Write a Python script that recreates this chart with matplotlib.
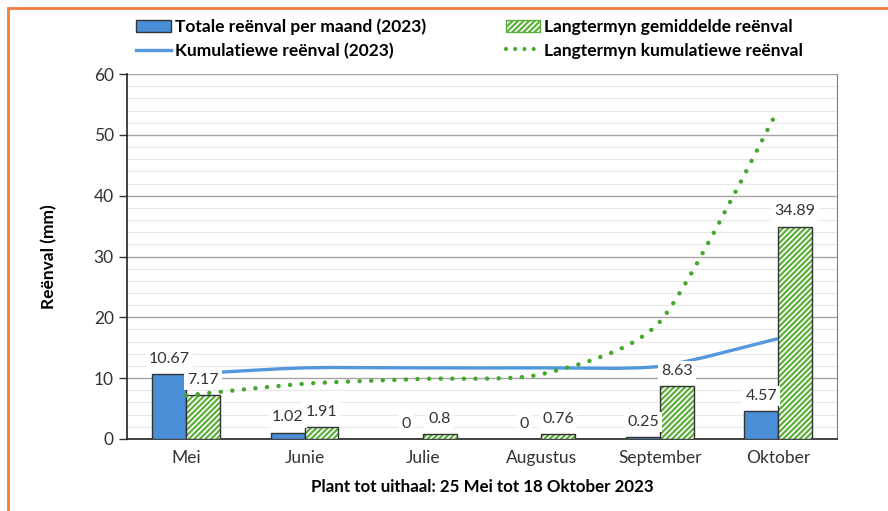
import numpy as np
import matplotlib.pyplot as plt
from matplotlib.path import Path
from matplotlib.patches import PathPatch, Rectangle, Patch
from matplotlib.lines import Line2D

plt.rcParams['font.family'] = ['Lato', 'DejaVu Sans']
plt.rcParams['hatch.linewidth'] = 1.6

maande = ['Mei', 'Junie', 'Julie', 'Augustus', 'September', 'Oktober']
reen_2023 = [10.67, 1.02, 0, 0, 0.25, 4.57]
reen_langtermyn = [7.17, 1.91, 0.8, 0.76, 8.63, 34.89]
kum_2023 = np.cumsum(reen_2023)
kum_langtermyn = np.cumsum(reen_langtermyn)

blou = '#4A8ED8'
blou_lyn = '#5497DC'
groen = '#5DAE3A'
groen_stip = '#45A72E'


def smooth_path(xs, ys, t=0.35):
    # Excel-agtige gladde lyn: Catmull-Rom as kubiese Bezier
    xs = np.asarray(xs, float)
    ys = np.asarray(ys, float)
    n = len(xs)
    verts = [(xs[0], ys[0])]
    codes = [Path.MOVETO]
    for i in range(n - 1):
        p0 = i - 1 if i > 0 else i
        p3 = i + 2 if i + 2 < n else i + 1
        c1 = (xs[i] + (xs[i + 1] - xs[p0]) * t / 3, ys[i] + (ys[i + 1] - ys[p0]) * t / 3)
        c2 = (xs[i + 1] - (xs[p3] - xs[i]) * t / 3, ys[i + 1] - (ys[p3] - ys[i]) * t / 3)
        verts += [c1, c2, (xs[i + 1], ys[i + 1])]
        codes += [Path.CURVE4] * 3
    return Path(verts, codes)


fig = plt.figure(figsize=(8.88, 5.11), dpi=100)
ax = fig.add_axes([0.143, 0.141, 0.800, 0.714])

x = np.arange(len(maande))
w = 0.285

ax.bar(x - w / 2, reen_2023, w, color=blou, edgecolor='#333333', linewidth=1, zorder=3)
ax.bar(x + w / 2, reen_langtermyn, w, color='white', edgecolor=groen, hatch='//////',
       linewidth=0, zorder=3)
ax.bar(x + w / 2, reen_langtermyn, w, fill=False, edgecolor='#333333', linewidth=1, zorder=3)

ax.add_patch(PathPatch(smooth_path(x, kum_2023), fill=False, edgecolor=blou_lyn,
                       linewidth=2.4, zorder=4))
ax.add_patch(PathPatch(smooth_path(x, kum_langtermyn), fill=False, edgecolor=groen_stip,
                       linewidth=3.2, linestyle=(0, (0.01, 2.6)), capstyle='round', zorder=4))

box = dict(boxstyle='square,pad=0.2', facecolor='white', edgecolor='none')
for xi, v in zip(x, reen_2023):
    ax.annotate(f'{v:g}', (xi - w / 2, v), xytext=(0, 6), textcoords='offset points',
                ha='center', va='bottom', fontsize=11.5, color='#333333', bbox=box, zorder=5)
for xi, v in zip(x, reen_langtermyn):
    ax.annotate(f'{v:g}', (xi + w / 2, v), xytext=(0, 6), textcoords='offset points',
                ha='center', va='bottom', fontsize=11.5, color='#333333', bbox=box, zorder=5)

ax.set_xlim(-0.5, 5.5)
ax.set_ylim(0, 60)
ax.set_xticks(x)
ax.set_xticklabels(maande, fontsize=12.5, color='#333333')
ax.set_yticks(range(0, 61, 10))
ax.set_yticks(range(0, 61, 2), minor=True)
ax.tick_params(axis='y', labelsize=12.5, colors='#333333', length=6, width=1, direction='out')
ax.tick_params(axis='y', which='minor', length=0)
ax.tick_params(axis='x', length=0, pad=8)
ax.grid(axis='y', which='major', color='#A6A6A6', linewidth=1, zorder=0)
ax.grid(axis='y', which='minor', color='#E8E8E8', linewidth=0.8, zorder=0)
ax.set_axisbelow(True)
for s in ['left', 'bottom']:
    ax.spines[s].set_color('#222222')
    ax.spines[s].set_linewidth(1.2)
ax.spines['right'].set_color('#7F7F7F')
ax.spines['top'].set_visible(False)

ax.set_ylabel('Reënval (mm)', fontsize=12.5, fontweight='bold', labelpad=26)
ax.set_xlabel('Plant tot uithaal: 25 Mei tot 18 Oktober 2023', fontsize=12.2,
              fontweight='bold', labelpad=9)

handles = [
    Patch(facecolor=blou, edgecolor='#333333', label='Totale reënval per maand (2023)'),
    Line2D([], [], color=blou_lyn, linewidth=2.4, label='Kumulatiewe reënval (2023)'),
    Patch(facecolor='white', edgecolor=groen, hatch='//////', label='Langtermyn gemiddelde reënval'),
    Line2D([], [], color=groen_stip, linewidth=3, linestyle=(0, (0.01, 2.2)),
           dash_capstyle='round', label='Langtermyn kumulatiewe reënval'),
]
leg = fig.legend(handles=handles, ncol=2, loc='upper left', bbox_to_anchor=(0.136, 0.995),
                 frameon=False, prop={'weight': 'bold', 'size': 12.5},
                 handlelength=2.0, handletextpad=0.2, columnspacing=4.6, labelspacing=0.45)

fig.patches.append(Rectangle((0.009, -0.05), 1.2, 1.035, transform=fig.transFigure,
                             fill=False, edgecolor='#F07C3E', linewidth=2))

fig.savefig('out.png', dpi=100)
